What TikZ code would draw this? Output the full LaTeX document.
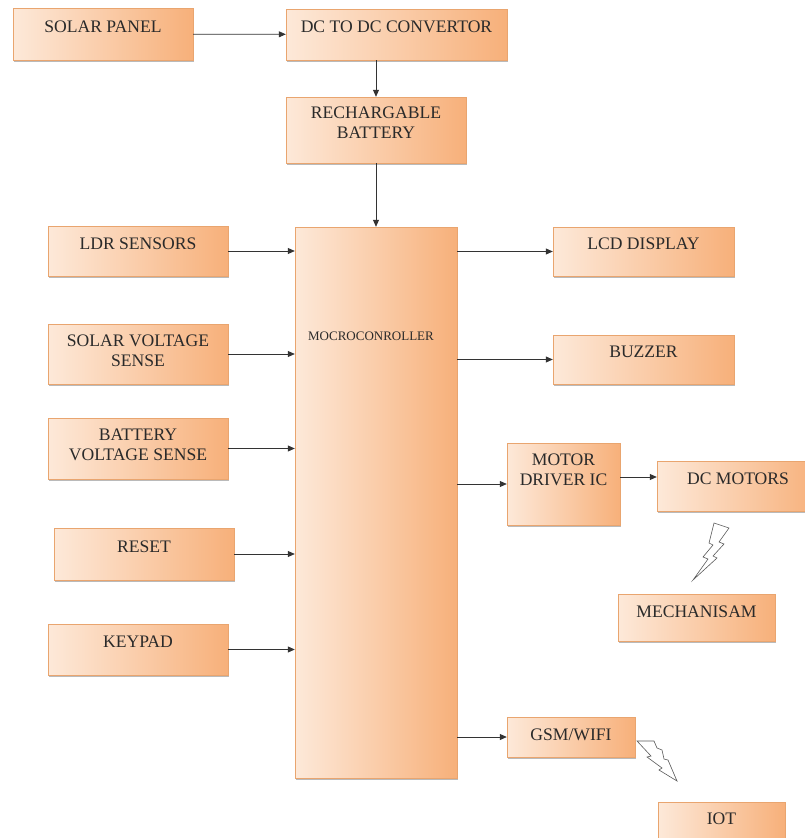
\documentclass[tikz,border=0pt]{standalone}
\usepackage{fontspec}
\setmainfont{Liberation Serif}
\newfontfamily\blkfont{Liberation Serif}
\usetikzlibrary{arrows.meta,shadows}
\definecolor{peachL}{HTML}{FDE9D9}
\definecolor{peachD}{HTML}{F7B07A}
\definecolor{peachB}{HTML}{E9A56F}
\definecolor{txtgray}{HTML}{2A2A2A}

\begin{document}
\begin{tikzpicture}[x=1pt,y=-1pt,
   every node/.style={text=txtgray,font=\blkfont\fontsize{17.6}{20}\selectfont,align=center,inner sep=2pt},
   blk/.style={draw=peachB,line width=.4pt,left color=peachL,right color=peachD,
      drop shadow={shadow xshift=.8pt,shadow yshift=-1.8pt,opacity=.45,fill=black!60},text depth=15pt},
   arr/.style={-{Triangle[length=7pt,width=6pt]},line width=.8pt,draw=black!80},
   bolt/.style={draw=black!65,fill=white,line width=.6pt,line join=miter}]
   \useasboundingbox (0,0) rectangle (805,838);
   % power chain
   \node[blk,minimum width=180,minimum height=52] (solar) at (103,34) {SOLAR PANEL};
   \node[blk,minimum width=221,minimum height=51] (dcdc) at (396.5,34.5) {DC TO DC CONVERTOR};
   \node[blk,minimum width=180,minimum height=66,text depth=14pt] (batt) at (376,130) {RECHARGABLE\\BATTERY};
   % controller
   \node[blk,minimum width=162,minimum height=551] (mc) at (376,502.5) {};
   \node[font=\blkfont\fontsize{13}{15}\selectfont] (mctext) at (371,336) {MOCROCONROLLER};
   % inputs
   \node[blk,minimum width=180,minimum height=50] (ldr) at (138,251) {LDR SENSORS};
   \node[blk,minimum width=180,minimum height=60,text depth=6pt] (svs) at (138,354) {SOLAR VOLTAGE\\SENSE};
   \node[blk,minimum width=180,minimum height=61,text depth=7pt] (bvs) at (138,448.5) {BATTERY\\VOLTAGE SENSE};
   \node[blk,minimum width=180,minimum height=52] (reset) at (144,554) {RESET};
   \node[blk,minimum width=180,minimum height=51] (keypad) at (138,649.5) {KEYPAD};
   % outputs
   \node[blk,minimum width=181,minimum height=49] (lcd) at (643.5,251.5) {LCD DISPLAY};
   \node[blk,minimum width=181,minimum height=49] (buzzer) at (643.5,359.5) {BUZZER};
   \node[blk,minimum width=113,minimum height=82,text depth=28pt] (md) at (563.5,484) {MOTOR\\DRIVER IC};
   \node[blk,minimum width=162,minimum height=50] (dcm) at (738,486) {DC MOTORS};
   \node[blk,minimum width=157,minimum height=47,text depth=11pt] (mech) at (696.5,617.5) {MECHANISAM};
   \node[blk,minimum width=128,minimum height=40,text depth=4pt] (gsm) at (571,737) {GSM/WIFI};
   \node[blk,minimum width=127,minimum height=48] (iot) at (721.5,826) {IOT};

   \draw[arr] (solar) -- (dcdc);
   \draw[arr] (batt.north |- dcdc.south) -- (batt.north);
   \draw[arr] (batt.south) -- (batt.south |- mc.north);
   \foreach \src in {ldr,svs,bvs,reset,keypad}
      \draw[arr] (\src.east) -- (\src.east -| mc.west);
   \foreach \dst in {lcd,buzzer,md,gsm}
      \draw[arr] (\dst.west -| mc.east) -- (\dst.west);
   \draw[arr] ([yshift=7pt]md.east) -- ([yshift=7pt]md.east -| dcm.west);

   % wireless links
   \draw[bolt] (714,523) -- (729,528) -- (719,542) -- (724,544) -- (713,556) -- (717,558)
      -- (693,580) -- (708,559) -- (703,557) -- (713,545) -- (709,543) -- cycle;
   \draw[bolt] (637,741) -- (654,741) -- (657,748) -- (662,750) -- (664,759) -- (668,760)
      -- (677,781) -- (659,770) -- (662,768) -- (647,757) -- (651,756) -- cycle;
\end{tikzpicture}
\end{document}
